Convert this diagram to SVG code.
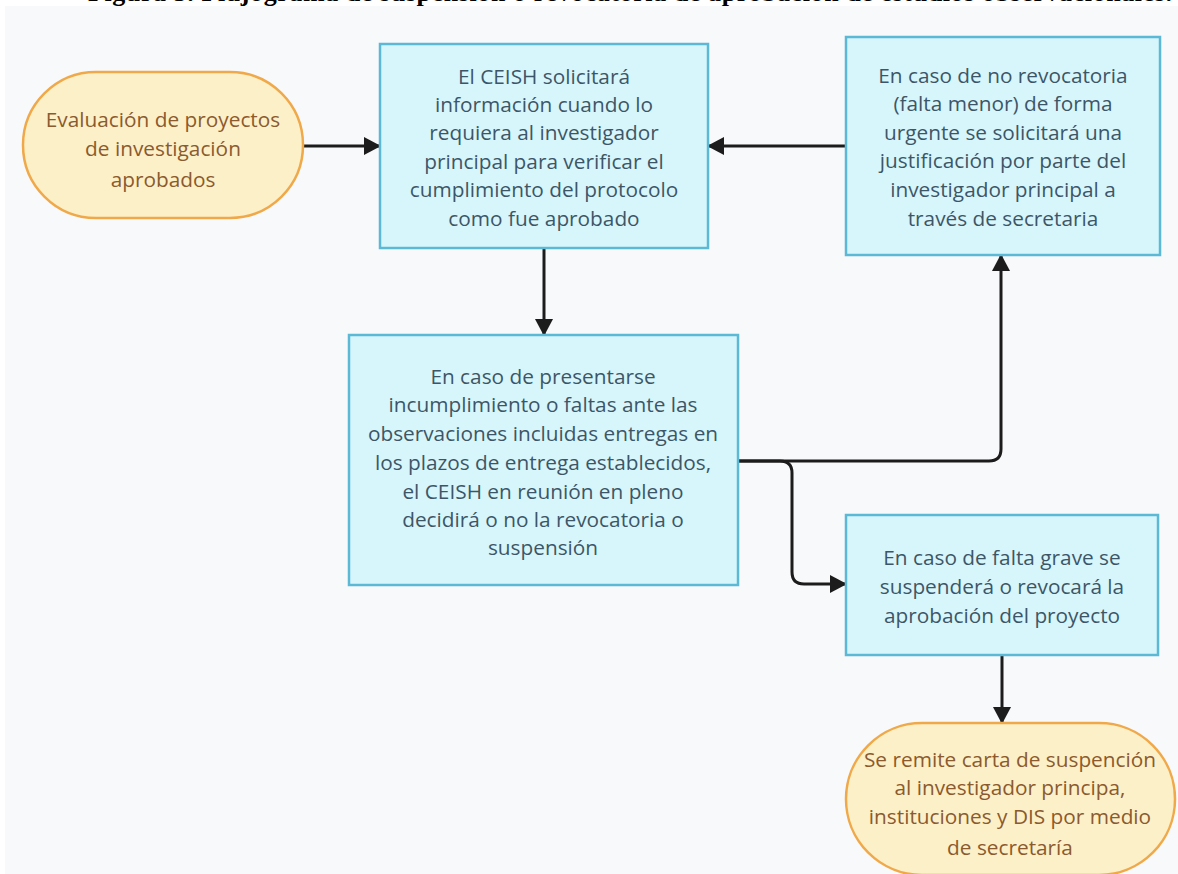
<svg xmlns="http://www.w3.org/2000/svg" width="1178" height="874" viewBox="0 0 1178 874">
  <style>
    .title { font-family: "Liberation Serif", serif; font-weight: bold; font-size: 26px; fill: #000; }
    .term rect { fill: #fcf0c8; stroke: #f0a94a; stroke-width: 2.5; }
    .term text { font-family: "Open Sans", "Noto Sans", sans-serif; font-size: 20.8px; fill: #8b5a2e; text-anchor: middle; }
    .proc rect { fill: #d7f6fc; stroke: #5cb9d6; stroke-width: 2.5; }
    .proc text { font-family: "Open Sans", "Noto Sans", sans-serif; font-size: 20.8px; fill: #3d5667; text-anchor: middle; }
    .edge { fill: none; stroke: #1c1c1c; stroke-width: 3; }
  </style>
  <defs>
    <marker id="arrow" markerUnits="userSpaceOnUse" markerWidth="18" markerHeight="20" refX="16" refY="9" orient="auto">
      <path d="M0,0 L17,9 L0,18 Z" fill="#1c1c1c"/>
    </marker>
  </defs>

  <rect x="0" y="0" width="1178" height="874" fill="#ffffff"/>
  <rect x="5" y="6" width="1173" height="868" fill="#f8f9fb"/>

  <!-- page caption, clipped at the top edge -->
  <text class="title" x="88" y="1" textLength="1084" lengthAdjust="spacing">Figura 3. Flujograma de suspensión o revocatoria de aprobación de estudios observacionales.</text>

  <g id="connectors">
    <path class="edge" d="M303,146 L380,146" marker-end="url(#arrow)"/>
    <path class="edge" d="M846,146 L708,146" marker-end="url(#arrow)"/>
    <path class="edge" d="M544,248 L544,335" marker-end="url(#arrow)"/>
    <path class="edge" d="M738,461 L989,461 Q1001,461 1001,449 L1001,255" marker-end="url(#arrow)"/>
    <path class="edge" d="M738,461 L780,461 Q792,461 792,473 L792,572 Q792,584 804,584 L846,584" marker-end="url(#arrow)"/>
    <path class="edge" d="M1002,655 L1002,723" marker-end="url(#arrow)"/>
  </g>

  <g id="start" class="term">
    <rect x="23" y="72" width="280" height="146" rx="73" ry="73"/>
    <text x="163" y="127">Evaluación de proyectos</text>
    <text x="163" y="156">de investigación</text>
    <text x="163" y="187">aprobados</text>
  </g>

  <g id="request-info" class="proc">
    <rect x="380" y="44" width="328" height="204"/>
    <text x="544" y="84">El CEISH solicitará</text>
    <text x="544" y="112">información cuando lo</text>
    <text x="544" y="140">requiera al investigador</text>
    <text x="544" y="169">principal para verificar el</text>
    <text x="544" y="197">cumplimiento del protocolo</text>
    <text x="544" y="226">como fue aprobado</text>
  </g>

  <g id="minor-fault" class="proc">
    <rect x="846" y="37" width="314" height="218"/>
    <text x="1003" y="83">En caso de no revocatoria</text>
    <text x="1003" y="111">(falta menor) de forma</text>
    <text x="1003" y="140">urgente se solicitará una</text>
    <text x="1003" y="168">justificación por parte del</text>
    <text x="1003" y="197">investigador principal a</text>
    <text x="1003" y="226">través de secretaria</text>
  </g>

  <g id="noncompliance" class="proc">
    <rect x="349" y="335" width="389" height="250"/>
    <text x="543" y="384">En caso de presentarse</text>
    <text x="543" y="412">incumplimiento o faltas ante las</text>
    <text x="543" y="441">observaciones incluidas entregas en</text>
    <text x="543" y="470">los plazos de entrega establecidos,</text>
    <text x="543" y="499">el CEISH en reunión en pleno</text>
    <text x="543" y="527">decidirá o no la revocatoria o</text>
    <text x="543" y="555">suspensión</text>
  </g>

  <g id="serious-fault" class="proc">
    <rect x="846" y="515" width="312" height="140"/>
    <text x="1002" y="565">En caso de falta grave se</text>
    <text x="1002" y="594">suspenderá o revocará la</text>
    <text x="1002" y="623">aprobación del proyecto</text>
  </g>

  <g id="end" class="term">
    <rect x="846" y="723" width="329" height="152" rx="76" ry="76"/>
    <text x="1010" y="767">Se remite carta de suspención</text>
    <text x="1010" y="795">al investigador principa,</text>
    <text x="1010" y="824">instituciones y DIS por medio</text>
    <text x="1010" y="855">de secretaría</text>
  </g>
</svg>
